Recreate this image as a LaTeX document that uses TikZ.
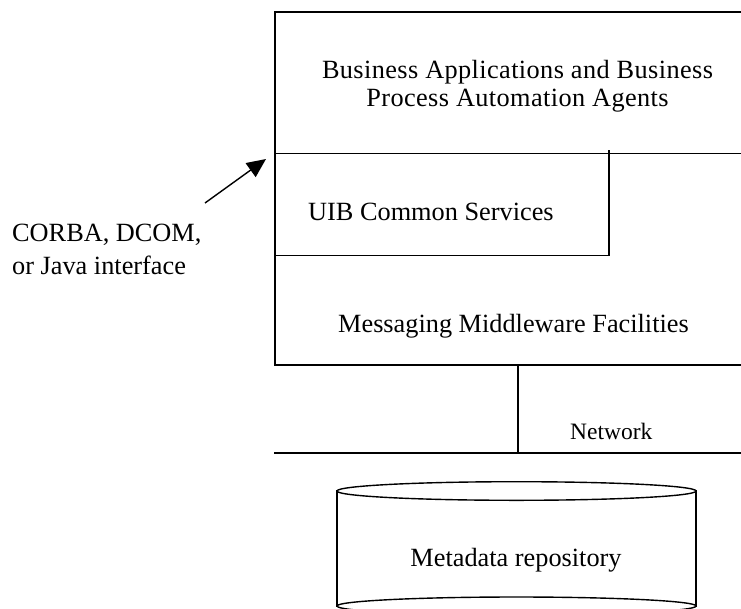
\documentclass[tikz,border=0pt]{standalone}
\usepackage{fontspec}
\setmainfont{Liberation Serif}
% slightly tracked face for the top layer's two lines
\newfontfamily\biztracked{Liberation Serif}[LetterSpace=1.5]
\usetikzlibrary{arrows.meta}

\tikzset{
  frame/.style={line width=1.4pt, line cap=rect},
  label/.style={inner sep=0pt, font=\fontsize{26.3}{30}\selectfont},
  wide/.style={inner sep=0pt, font=\biztracked\fontsize{26.3}{30}\selectfont},
  small/.style={inner sep=0pt, font=\fontsize{23.5}{27}\selectfont},
  pointer/.style={line width=1.4pt, -{Triangle[length=19pt, width=17pt]}},
}

\begin{document}
\begin{tikzpicture}[x=1pt, y=-1pt]
  \useasboundingbox (0,0) rectangle (741,608);
  \clip (0,0) rectangle (741,608);

  % layered stack
  \draw[frame] (741,12) -- (275,12) -- (275,365) -- (741,365);
  \draw[frame] (275,153.5) -- (741,153.5);
  \draw[frame] (609,151) -- (609,255.5) -- (275,255.5);
  \draw[frame] (518,365) -- (518,453);
  \draw[frame] (275,453) -- (741,453);

  % layer labels
  \node[wide, anchor=base] (bizA) at (517.5,78) {Business Applications and Business};
  \node[wide, anchor=base] (bizB) at (517.5,106) {Process Automation Agents};
  \node[label, anchor=base west] (uib) at (308,220) {UIB Common Services};
  \node[label, anchor=base] (mmf) at (513.5,332.5) {Messaging Middleware Facilities};
  \node[small, anchor=base west] (net) at (570,439) {Network};

  % metadata repository cylinder
  \draw[frame] (516.5,491) ellipse [x radius=179.5, y radius=9.3];
  \draw[frame] (337,491) -- (337,606);
  \draw[frame] (696,491) -- (696,606);
  \draw[frame] (516.5,606) ellipse [x radius=179.5, y radius=9];
  \node[label, anchor=base] (repo) at (516,566.5) {Metadata repository};

  % interface note and pointer
  \node[label, anchor=base west] (ifA) at (12,241.5) {CORBA, DCOM,};
  \node[label, anchor=base west] (ifB) at (12,274) {or Java interface};
  \coordinate (tail) at (205,203);
  \coordinate (tip) at (266,159);
  \draw[pointer] (tail) -- (tip);
\end{tikzpicture}
\end{document}
